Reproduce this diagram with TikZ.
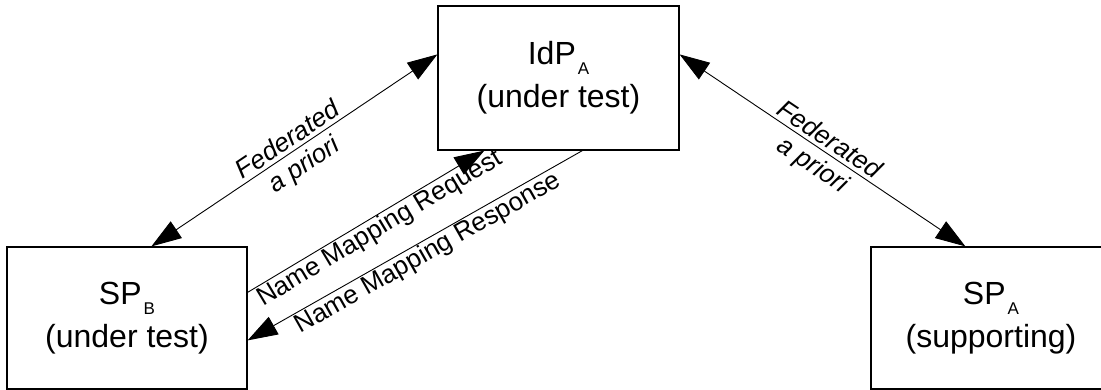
\documentclass[tikz,border=0pt]{standalone}
\usepackage{fontspec}
\setmainfont{Liberation Sans}
\usetikzlibrary{arrows.meta,calc}
\newcommand\lowsub[1]{\hspace{2pt}\raisebox{-10pt}{\fontsize{17}{17}\selectfont #1}}
\begin{document}
\begin{tikzpicture}[x=1pt,y=-1pt,
  box/.style={draw=black, line width=1.2pt, inner sep=0pt, align=center,
    font=\fontsize{32}{43}\selectfont},
  conn/.style={draw=black, line width=0.9pt},
  tip/.tip={Triangle[length=30pt,width=20pt]},
  nm/.style={sloped, below, inner sep=1pt, font=\fontsize{26}{30}\selectfont},
  fed/.style={sloped, align=center, inner sep=0pt, yshift=-4pt,
    font=\fontsize{26}{30}\selectfont\itshape}]
\clip (0,0) rectangle (1101,390);
\node[box, minimum width=241pt, minimum height=144pt] (idp) at (558.5,78) {IdP\lowsub{A}\\(under test)};
\node[box, minimum width=240pt, minimum height=142pt] (spb) at (127,318) {SP\lowsub{B}\\(under test)};
\node[box, minimum width=240pt, minimum height=142pt] (spa) at (991,318) {SP\lowsub{A}\\(supporting)};
\draw[conn, tip-tip] ($(spb.north west)+(145,0)$) -- node[fed] {Federated\\a priori} ($(idp.north west)+(0,49)$);
\draw[conn, tip-tip] ($(idp.north east)+(0,49)$) -- node[fed] {Federated\\a priori} ($(spa.north west)+(95,0)$);
\draw[conn, -tip] ($(spb.north east)+(0,46)$) -- node[nm, pos=0.53] {Name Mapping Request} ($(idp.south west)+(47,0)$);
\draw[conn, tip-] ($(spb.north east)+(0,94)$) -- node[nm, pos=0.52] {Name Mapping Response} ($(idp.south west)+(145,0)$);
\end{tikzpicture}
\end{document}
